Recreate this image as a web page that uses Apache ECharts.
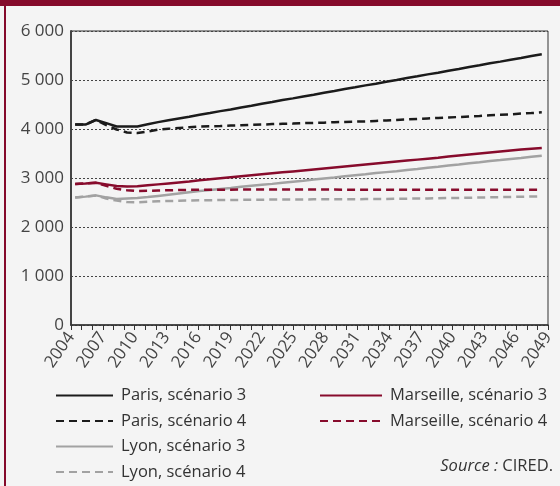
<!DOCTYPE html>
<html>
<head>
<meta charset="utf-8">
<script src="https://cdn.jsdelivr.net/npm/echarts@6/dist/echarts.min.js"></script>
<style>
    html, body { margin: 0; padding: 0; background: #ffffff; }
    #frame {
        position: relative;
        width: 560px;
        height: 486px;
        background: #f4f4f4;
    }
    #frame:before {
        content: '';
        position: absolute;
        left: 0; top: 0; width: 560px; height: 6px;
        background: #850a2b;
    }
    #frame:after {
        content: '';
        position: absolute;
        left: 4px; top: 0; width: 2px; height: 486px;
        background: #850a2b;
    }
    #main { position: absolute; left: 0; top: 0; width: 560px; height: 486px; }
</style>
</head>
<body>
<div id="frame"><div id="main"></div></div>
<script>
'use strict'
// années 2004 -> 2049
var years = [];
for (var y = 2004; y <= 2049; y++) { years.push(String(y)); }

var paris3 = [4090, 4090, 4185, 4120, 4050, 4050, 4050, 4095, 4140, 4180,
    4215, 4250, 4290, 4325, 4365, 4400, 4440, 4475, 4515, 4550,
    4590, 4625, 4665, 4700, 4740, 4775, 4815, 4850, 4890, 4925,
    4965, 5000, 5040, 5075, 5115, 5150, 5190, 5225, 5265, 5300,
    5340, 5375, 5415, 5450, 5490, 5525];
var paris4 = [4090, 4090, 4185, 4080, 3990, 3930, 3920, 3950, 3985, 4005,
    4020, 4035, 4050, 4055, 4060, 4070, 4075, 4085, 4090, 4100,
    4105, 4110, 4120, 4125, 4130, 4140, 4145, 4150, 4155, 4165,
    4175, 4185, 4195, 4205, 4215, 4225, 4235, 4245, 4255, 4265,
    4280, 4290, 4300, 4315, 4325, 4340];
var lyon3 = [2600, 2620, 2645, 2605, 2570, 2580, 2590, 2610, 2635, 2660,
    2685, 2710, 2735, 2755, 2775, 2795, 2820, 2840, 2860, 2880,
    2905, 2925, 2945, 2970, 2990, 3010, 3035, 3055, 3075, 3100,
    3120, 3140, 3165, 3185, 3210, 3230, 3255, 3275, 3300, 3320,
    3345, 3365, 3390, 3410, 3435, 3455];
var lyon4 = [2600, 2620, 2645, 2580, 2540, 2510, 2505, 2515, 2525, 2530,
    2535, 2540, 2545, 2548, 2550, 2552, 2554, 2556, 2558, 2560,
    2561, 2562, 2563, 2564, 2565, 2566, 2567, 2568, 2569, 2570,
    2572, 2575, 2578, 2581, 2584, 2587, 2590, 2594, 2598, 2602,
    2606, 2610, 2614, 2618, 2622, 2625];
var marseille3 = [2880, 2890, 2905, 2870, 2835, 2825, 2830, 2850, 2870, 2890,
    2910, 2930, 2955, 2975, 2995, 3015, 3035, 3055, 3075, 3095,
    3115, 3135, 3155, 3175, 3195, 3215, 3235, 3255, 3275, 3295,
    3315, 3335, 3355, 3375, 3395, 3415, 3440, 3460, 3480, 3500,
    3520, 3540, 3560, 3580, 3595, 3610];
var marseille4 = [2880, 2890, 2905, 2840, 2780, 2750, 2735, 2740, 2745, 2750,
    2755, 2758, 2760, 2760, 2762, 2762, 2764, 2764, 2765, 2765,
    2765, 2765, 2765, 2764, 2764, 2763, 2762, 2762, 2761, 2760,
    2760, 2760, 2760, 2760, 2760, 2760, 2760, 2760, 2760, 2760,
    2760, 2760, 2760, 2760, 2760, 2760];

var yTicks = [0, 1000, 2000, 3000, 4000, 5000, 6000];

var font = '"Open Sans", sans-serif';
var colBlack = '#1b1b1b';
var colRed = '#870b2c';
var colGray = '#a2a2a2';

function pairs(arr) {
    return arr.map(function (v, i) { return [2004 + i, v]; });
}

function mkSeries(name, arr, color, dashed) {
    return {
        name: name,
        type: 'line',
        xAxisIndex: 1,
        symbol: 'none',
        animation: false,
        lineStyle: {
            color: color,
            width: 2.5,
            type: dashed ? [8, 5] : 'solid'
        },
        itemStyle: { color: color },
        data: pairs(arr)
    };
}

var legendText = { fontFamily: font, fontSize: 16.5, color: '#333', lineHeight: 17, padding: [0, 0, 0, 3] };

var option = {
    backgroundColor: 'transparent',
    animation: false,
    grid: {
        left: 71,
        top: 31,
        right: 12,
        bottom: 161,
        show: true,
        borderColor: '#333',
        borderWidth: 1,
        backgroundColor: 'transparent'
    },
    legend: [
        {
            orient: 'vertical',
            left: 55,
            top: 387,
            height: 110,
            padding: 0,
            itemWidth: 57,
            itemHeight: 14,
            itemGap: 8.5,
            itemStyle: { opacity: 0 },
            textStyle: legendText,
            data: ['Paris, scénario 3', 'Paris, scénario 4', 'Lyon, scénario 3', 'Lyon, scénario 4']
        },
        {
            orient: 'vertical',
            left: 319,
            top: 387,
            height: 110,
            padding: 0,
            itemWidth: 62,
            itemHeight: 14,
            itemGap: 8.5,
            itemStyle: { opacity: 0 },
            textStyle: legendText,
            data: ['Marseille, scénario 3', 'Marseille, scénario 4']
        }
    ],
    graphic: [
        {
            type: 'text',
            right: 7,
            top: 458,
            style: {
                text: '{i|Source :} CIRED.',
                font: '16.5px ' + font,
                fill: '#333',
                rich: {
                    i: { fontStyle: 'italic', fontFamily: font, fontSize: 16.5, fill: '#333' }
                }
            }
        }
    ],
    xAxis: [
        {
            type: 'category',
            data: years,
            boundaryGap: false,
            axisLine: { lineStyle: { color: '#333', width: 1.5 } },
            axisTick: { interval: 0, length: 5, lineStyle: { color: '#333' } },
            axisLabel: {
                interval: 2,
                rotate: 55,
                margin: 9,
                fontFamily: font,
                fontSize: 17,
                color: '#444'
            },
            splitLine: { show: false }
        },
        {
            // axe de valeurs masqué qui place les points des séries
            type: 'value',
            min: 2003.6,
            max: 2049.6,
            show: false,
            splitLine: { show: false }
        }
    ],
    yAxis: {
        type: 'value',
        min: yTicks[0],
        max: yTicks[yTicks.length - 1],
        interval: 1000,
        axisLine: { show: true, lineStyle: { color: '#444', width: 2 } },
        axisTick: { show: false },
        axisLabel: {
            fontFamily: font,
            fontSize: 17,
            color: '#444',
            margin: 7,
            formatter: function (v) {
                return String(v).replace(/\B(?=(\d{3})+(?!\d))/g, ' ');
            }
        },
        splitLine: { lineStyle: { color: '#444', type: [2, 2], width: 1 } }
    },
    series: [
        mkSeries('Paris, scénario 3', paris3, colBlack, false),
        mkSeries('Paris, scénario 4', paris4, colBlack, true),
        mkSeries('Lyon, scénario 3', lyon3, colGray, false),
        mkSeries('Lyon, scénario 4', lyon4, colGray, true),
        mkSeries('Marseille, scénario 3', marseille3, colRed, false),
        mkSeries('Marseille, scénario 4', marseille4, colRed, true)
    ]
};

var myChart = echarts.init(document.getElementById('main'));
myChart.setOption(option);
</script>
</body>
</html>
